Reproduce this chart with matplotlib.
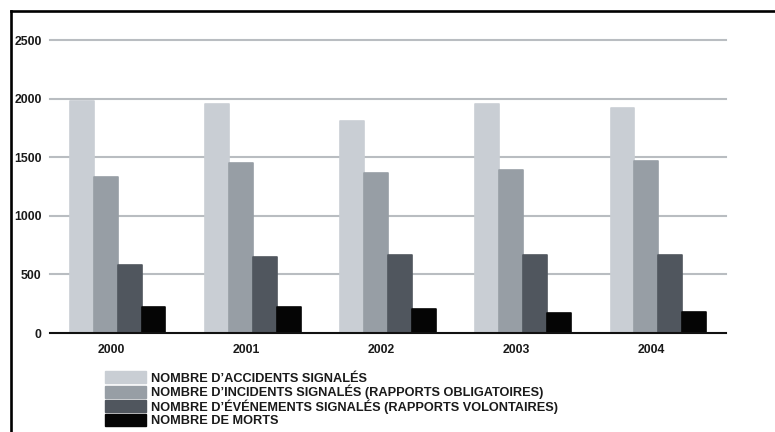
import matplotlib
matplotlib.use("Agg")
import matplotlib.pyplot as plt
from matplotlib.lines import Line2D
from matplotlib.patches import Patch
import numpy as np

years = ["2000", "2001", "2002", "2003", "2004"]
accidents = [1980, 1950, 1807, 1952, 1922]
incidents = [1332, 1451, 1369, 1389, 1466]
evenements = [578, 648, 668, 668, 668]
morts = [219, 219, 205, 168, 183]

series_labels = [
    "NOMBRE D\u2019ACCIDENTS SIGNALÉS",
    "NOMBRE D\u2019INCIDENTS SIGNALÉS (RAPPORTS OBLIGATOIRES)",
    "NOMBRE D\u2019ÉVÉNEMENTS SIGNALÉS (RAPPORTS VOLONTAIRES)",
    "NOMBRE DE MORTS",
]
colors = ["#c9ced4", "#979ea5", "#50565e", "#050505"]
yticks = [0, 500, 1000, 1500, 2000, 2500]

plt.rcParams["font.family"] = ["Liberation Sans", "DejaVu Sans"]

W, H = 775, 432
fig = plt.figure(figsize=(W / 100, H / 100), dpi=100)

# axes placement in pixels
ax_l, ax_r, ax_top, ax_bot = 50, 726, 40, 333
ax = fig.add_axes([ax_l / W, (H - ax_bot) / H, (ax_r - ax_l) / W, (ax_bot - ax_top) / H])

x = np.arange(len(years))
bw = 0.177
all_series = [accidents, incidents, evenements, morts]
for j, (vals, c) in enumerate(zip(all_series, colors)):
    ax.bar(x + (j - 1.5) * bw, vals, width=bw, color=c, edgecolor=c,
           linewidth=1.2, joinstyle="round", zorder=3)

ax.set_xlim(-0.5, len(years) - 0.5)
ax.set_ylim(0, 2500)
ax.set_yticks(yticks)
ax.set_yticklabels([str(v) for v in yticks], fontsize=8.8, fontweight="bold",
                   color="#1a1a1a")
ax.set_xticks(x - 0.05)
ax.set_xticklabels(years, fontsize=8.8, fontweight="bold", color="#1a1a1a")
ax.tick_params(axis="both", length=0)
ax.tick_params(axis="y", pad=6)
ax.tick_params(axis="x", pad=8)

for v in yticks[1:]:
    ax.axhline(v, color="#b9bdc1", linewidth=1.5, zorder=1, clip_on=False)

for s in ["top", "right", "left"]:
    ax.spines[s].set_visible(False)
ax.spines["bottom"].set_color("#111111")
ax.spines["bottom"].set_linewidth(1.5)
ax.spines["bottom"].set_zorder(4)

handles = [Patch(facecolor=c, edgecolor=c, linewidth=1.0, joinstyle="round") for c in colors]
leg = fig.legend(handles, series_labels, loc="upper left",
                 bbox_to_anchor=(105 / W, (H - 371.5) / H),
                 frameon=False, borderpad=0, borderaxespad=0,
                 handlelength=3.2, handleheight=1.06, labelspacing=0.0,
                 handletextpad=0.4,
                 prop={"size": 9.2, "weight": "bold"})
for t in leg.get_texts():
    t.set_color("#1a1a1a")

# page frame: left and top rules
fig.add_artist(Line2D([11 / W, 11 / W], [0, (H - 11) / H], color="black",
                      linewidth=1.9, transform=fig.transFigure))
fig.add_artist(Line2D([11 / W, 1.0], [(H - 11) / H, (H - 11) / H], color="black",
                      linewidth=1.9, transform=fig.transFigure))

fig.savefig("out.png", dpi=100)
